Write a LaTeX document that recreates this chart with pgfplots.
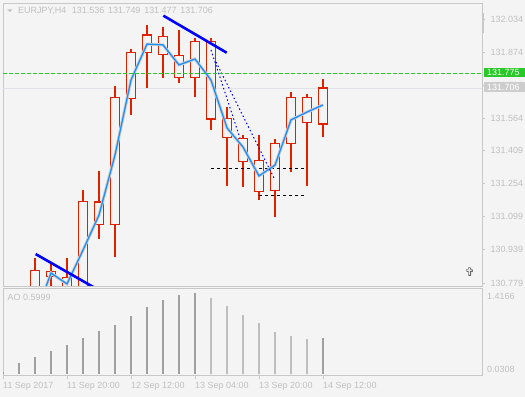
\documentclass[border=0pt]{standalone}
\usepackage{pgfplots}
\pgfplotsset{compat=1.18}
\usepackage{pgfplotstable}
\usepackage{fontspec}
\setmainfont{Liberation Sans}
\newfontfamily\dejavu{DejaVu Sans}
\definecolor{bg}{RGB}{244,244,244}
\definecolor{frame}{RGB}{200,200,200}
\definecolor{txt}{RGB}{192,192,192}
\definecolor{candle}{RGB}{221,34,0}
\definecolor{maline}{RGB}{30,144,255}
\definecolor{mahalo}{RGB}{205,205,205}
\definecolor{askgreen}{RGB}{40,200,40}
\definecolor{bidline}{RGB}{225,225,235}
\definecolor{aoupc}{RGB}{160,160,160}
\definecolor{aodownc}{RGB}{190,190,190}
\definecolor{pricebox}{RGB}{205,205,205}

\pgfplotstableread{
i open high low close
2 130.700 130.898 130.650 130.841
3 130.812 130.874 130.700 130.836
4 130.700 130.898 130.660 130.808
5 130.720 131.220 130.680 131.168
6 131.059 131.312 130.991 131.165
7 131.059 131.719 130.905 131.662
8 131.657 131.895 131.578 131.876
9 131.876 132.006 131.708 131.958
10 131.952 131.995 131.755 131.866
11 131.862 131.985 131.732 131.757
12 131.756 131.947 131.665 131.928
13 131.928 131.944 131.510 131.559
14 131.563 131.615 131.243 131.472
15 131.468 131.483 131.238 131.358
16 131.363 131.483 131.175 131.216
17 131.221 131.468 131.095 131.444
18 131.444 131.687 131.309 131.662
19 131.662 131.681 131.243 131.544
20 131.536 131.749 131.477 131.706
}\candles

\pgfplotstableread{
i ma
2 130.620
3 130.828
4 130.776
5 130.937
6 131.103
7 131.388
8 131.744
9 131.915
10 131.911
11 131.816
12 131.844
13 131.744
14 131.517
15 131.426
16 131.289
17 131.340
18 131.555
19 131.592
20 131.626
}\mavals

\pgfplotstableread{
i ao
0 0.0308
1 0.183
2 0.283
3 0.383
4 0.483
5 0.600
6 0.717
7 0.817
8 0.967
9 1.117
10 1.233
11 1.317
12 1.350
20 0.5999
}\aoup

\pgfplotstableread{
i ao
13 1.267
14 1.133
15 0.983
16 0.850
17 0.700
18 0.633
19 0.583
}\aodown

\pgfplotsset{
  mainframe/.style={at={(3bp,111bp)}, anchor=south west, scale only axis,
    width=479bp, height=283bp, xmin=0, xmax=29.9375},
}

\begin{document}
\begin{tikzpicture}
\fill[bg] (0,0) rectangle (525bp,397bp);
\useasboundingbox (0,0) rectangle (525bp,397bp);

% main price axis: frame, right scale, bid line, wicks
\begin{axis}[mainframe, ymin=130.7663, ymax=132.110,
  axis line style={frame, line width=0.8bp},
  xtick=\empty,
  ytick={132.034,131.874,131.719,131.564,131.409,131.254,131.099,130.939,130.779},
  yticklabels={132.034,131.874,131.719,131.564,131.409,131.254,131.099,130.939,130.779},
  ytick pos=right, yticklabel pos=right, tick align=outside, major tick length=3bp,
  major tick style={frame, line width=0.8bp},
  yticklabel style={font=\fontsize{9}{10}\selectfont, text=txt, anchor=west, inner sep=0pt, xshift=5.5bp},
]
\addplot[draw=bidline, line width=1bp] coordinates {(0,131.706) (29.9375,131.706)};
\addplot[draw=none, error bars/.cd, y dir=both, y explicit, error mark=none,
  error bar style={draw=candle, solid, line width=1.3bp}]
  table[x=i, y expr={(\thisrow{high}+\thisrow{low})/2}, y error expr={(\thisrow{high}-\thisrow{low})/2}] {\candles};
\end{axis}

% candle bodies (prices shifted by 130 so bars can stand on zero)
\begin{axis}[mainframe, ymin=0.7663, ymax=2.110, hide axis, ybar stacked, bar width=9.2bp]
\addplot[draw=none, fill=none] table[x=i, y expr={min(\thisrow{open},\thisrow{close})-130}] {\candles};
\addplot[draw=candle, fill=bg, line width=1.3bp] table[x=i, y expr={abs(\thisrow{close}-\thisrow{open})}] {\candles};
\end{axis}

% overlays
\begin{axis}[mainframe, ymin=130.7663, ymax=132.110, hide axis]
\addplot[draw=black, line width=1bp, dash pattern=on 3bp off 3bp] coordinates {(13.0,131.325) (18.81,131.325)};
\addplot[draw=black, line width=1bp, dash pattern=on 3bp off 3bp] coordinates {(16.0,131.198) (18.81,131.198)};
\addplot[draw=mahalo, line width=3bp] table[x=i, y=ma] {\mavals};
\addplot[draw=maline, line width=1.3bp] table[x=i, y=ma] {\mavals};
\addplot[draw=blue, line width=2.6bp] coordinates {(10.02,132.050) (13.98,131.874)};
\addplot[draw=blue, line width=2.6bp] coordinates {(2.04,130.918) (6.0,130.746)};
\addplot[draw=blue, line width=1bp, dash pattern=on 1.5bp off 2.5bp] coordinates {(13.0,131.887) (14.81,131.469)};
\addplot[draw=blue, line width=1bp, dash pattern=on 1.5bp off 2.5bp] coordinates {(13.31,131.830) (17.0,131.270)};
\addplot[draw=askgreen, line width=1.1bp, dash pattern=on 3.5bp off 2.5bp] coordinates {(0,131.775) (29.9375,131.775)};
\end{axis}

% AO panel
\begin{axis}[at={(3bp,21.3bp)}, anchor=south west, scale only axis,
  width=479bp, height=87.4bp, xmin=0, xmax=29.9375, ymin=-0.0283, ymax=1.4283,
  axis line style={frame, line width=0.8bp},
  ytick=\empty,
  xtick={0,4,8,12,16,20},
  xticklabels={11 Sep 2017,11 Sep 20:00,12 Sep 12:00,13 Sep 04:00,13 Sep 20:00,14 Sep 12:00},
  xtick pos=bottom, tick align=outside, major tick length=3.5bp,
  major tick style={frame, line width=0.8bp},
  xticklabel style={font=\fontsize{9}{10}\selectfont, text=txt, anchor=north west, inner sep=0pt, yshift=-2.5bp},
]
\addplot[ycomb, draw=aoupc, line width=2bp] table[x=i, y=ao] {\aoup};
\addplot[ycomb, draw=aodownc, line width=2bp] table[x=i, y=ao] {\aodown};
\end{axis}

% texts and price boxes
\fill[txt] (7.3bp,387.7bp) -- (12.5bp,387.7bp) -- (9.9bp,385bp) -- cycle;
\node[anchor=west, inner sep=0pt, text=txt, font=\fontsize{9}{10}\selectfont] at (18bp,386bp) {EURJPY,H4\hspace{5.5bp}131.536\hspace{3.8bp}131.749\hspace{3.8bp}131.477\hspace{3.8bp}131.706};
\node[anchor=west, inner sep=0pt, text=txt, font=\fontsize{9}{10}\selectfont] at (7.5bp,99.7bp) {AO 0.5999};
\node[anchor=west, inner sep=0pt, text=txt, font=\fontsize{9}{10}\selectfont] at (487bp,101bp) {1.4166};
\node[anchor=west, inner sep=0pt, text=txt, font=\fontsize{9}{10}\selectfont] at (487bp,27.7bp) {0.0308};
\fill[frame] (481.5bp,364bp) rectangle (484bp,384bp);
\fill[askgreen] (483.5bp,319.7bp) rectangle (525bp,329.3bp);
\node[anchor=west, inner sep=0pt, text=white, font=\fontsize{9}{10}\selectfont] at (487bp,324.5bp) {131.775};
\fill[pricebox] (483.5bp,304.7bp) rectangle (525bp,314.7bp);
\node[anchor=west, inner sep=0pt, text=white, font=\fontsize{9}{10}\selectfont] at (487bp,309.7bp) {131.706};
\node[inner sep=0pt, text=black!60, font=\dejavu\fontsize{12}{12}\selectfont] at (470bp,125bp) {✞};
\end{tikzpicture}
\end{document}
